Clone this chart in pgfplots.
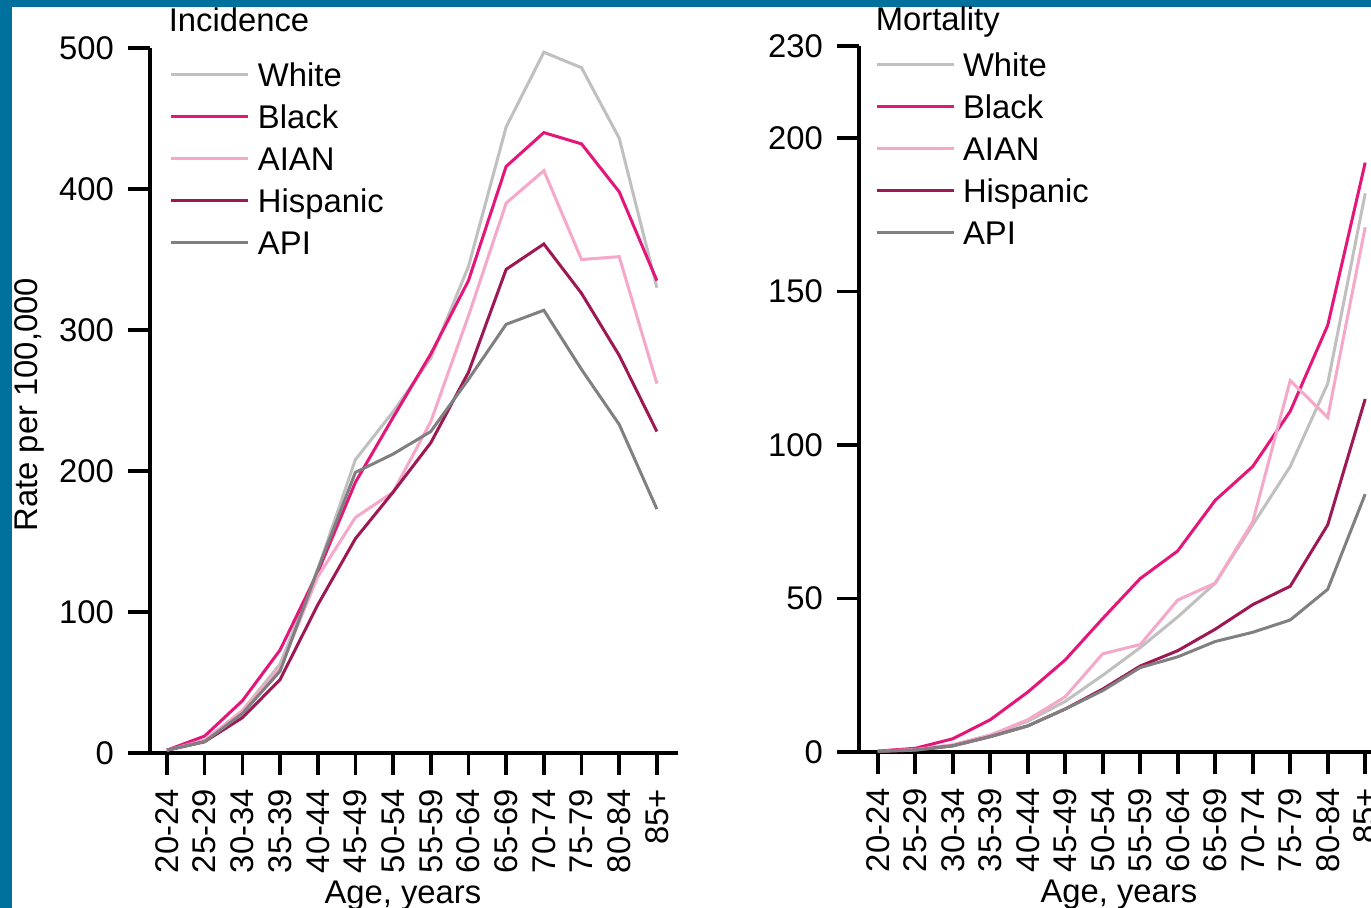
\documentclass[border=0pt]{standalone}
\usepackage{fontspec}
\setmainfont{Liberation Sans}
\usepackage{pgfplots}
\pgfplotsset{compat=1.18}
\usepackage{pgfplotstable}

\definecolor{cWhite}{RGB}{192,192,192}
\definecolor{cBlack}{RGB}{228,22,122}
\definecolor{cAIAN}{RGB}{245,168,202}
\definecolor{cHisp}{RGB}{158,24,86}
\definecolor{cAPI}{RGB}{128,128,128}
\definecolor{frameblue}{RGB}{0,113,156}

\pgfplotstableread{
i W B A H P
0 2 2 2 2 2
1 8 12 9 8 8
2 30 37 30 25 28
3 63 73 60 52 58
4 130 128 125 105 130
5 208 192 167 152 199
6 242 238 185 185 212
7 280 283 235 220 228
8 345 335 310 270 265
9 444 416 390 343 304
10 497 440 413 361 314
11 486 432 350 326 272
12 436 398 352 282 233
13 330 335 262 228 173
}\inc

\pgfplotstableread{
i W B A H P
0 0.3 0.3 0.3 0.2 0.2
1 0.8 1.2 0.8 0.6 0.6
2 2.3 4.3 2.3 2 2
3 5.5 10.5 5.5 5 5
4 10 19.5 10.5 8.5 8.5
5 16.5 30 18 14 14
6 25 43.5 32 20.5 20
7 34 56.5 35 28 27.5
8 44 65.5 49.5 33 31
9 55 82 55 40 36
10 74 93 75 48 39
11 93 111 121 54 43
12 120 139 109 74 53
13 182 192 171 115 84
}\mort

\pgfplotsset{
  myaxis/.style={
    scale only axis,
    axis lines=left,
    axis line style={-, line width=1pt, black},
    tick align=outside,
    major tick length=5.5pt,
    tick style={line width=0.9pt, black},
    xtick={0,...,13},
    xticklabels={20-24,25-29,30-34,35-39,40-44,45-49,50-54,55-59,60-64,65-69,70-74,75-79,80-84,85+},
    xticklabel style={rotate=90, anchor=east, font=\fontsize{8.2}{9.8}\selectfont},
    yticklabel style={font=\fontsize{8.2}{9.8}\selectfont},
    /pgf/number format/assume math mode=true,
    label style={font=\fontsize{8.2}{9.8}\selectfont},
    xmax=13.56,
    ymin=0,
    clip=false,
    legend cell align=left,
    legend style={draw=none, fill=none, inner sep=0pt, outer sep=0pt,
      font=\fontsize{8.2}{9.8}\selectfont,
      /tikz/row sep=4.6pt, /tikz/column sep=2pt,
      nodes={inner sep=0pt, text height=5.87pt, text depth=0pt}},
    legend image code/.code={\draw[##1] (0pt,0pt) -- (19.25pt,0pt);},
    every axis plot/.append style={line width=0.75pt},
  }
}

\begin{document}
\begin{tikzpicture}[font=\fontsize{8.2}{9.8}\selectfont]
\fill[white] (0,0) rectangle (342.75pt,227pt);
\fill[frameblue] (0,0) rectangle (3pt,227pt);
\fill[frameblue] (0,225.25pt) rectangle (342.75pt,227pt);

\begin{axis}[myaxis,
  at={(37.5pt,38.75pt)}, anchor=south west,
  width=132pt, height=176.25pt,
  xmin=-0.45, ymax=500,
  ytick={0,100,200,300,400,500},
  xlabel={Age, years},
  xlabel style={at={(axis description cs:0.479,-0.2128)}, anchor=base},
  ylabel={Rate per 100,000},
  ylabel style={at={(axis description cs:-0.214,0.494)}, anchor=base},
  legend style={at={(axis description cs:0,1)}, anchor=north west, xshift=5pt, yshift=-3.8pt},
]
\addplot[cWhite] table[x=i,y=W]{\inc};
\addplot[cBlack] table[x=i,y=B]{\inc};
\addplot[cAIAN] table[x=i,y=A]{\inc};
\addplot[cHisp] table[x=i,y=H]{\inc};
\addplot[cAPI] table[x=i,y=P]{\inc};
\legend{White,Black,AIAN,Hispanic,API}
\end{axis}
\node[anchor=base west, inner sep=0pt] at (42pt,219pt) {Incidence};

\begin{axis}[myaxis,
  at={(214.75pt,39pt)}, anchor=south west,
  width=131.8pt, height=176.5pt,
  xmin=-0.5, ymax=230,
  ytick={0,50,100,150,200,230},
  xlabel={Age, years},
  xlabel style={at={(axis description cs:0.493,-0.2125)}, anchor=base},
  legend style={at={(axis description cs:0,1)}, anchor=north west, xshift=4pt, yshift=-1.8pt},
]
\addplot[cWhite] table[x=i,y=W]{\mort};
\addplot[cBlack] table[x=i,y=B]{\mort};
\addplot[cAIAN] table[x=i,y=A]{\mort};
\addplot[cHisp] table[x=i,y=H]{\mort};
\addplot[cAPI] table[x=i,y=P]{\mort};
\legend{White,Black,AIAN,Hispanic,API}
\end{axis}
\node[anchor=base west, inner sep=0pt] at (218.75pt,219.25pt) {Mortality};

\pgfresetboundingbox
\path[use as bounding box] (0,0) rectangle (342.75pt,227pt);
\end{tikzpicture}
\end{document}
